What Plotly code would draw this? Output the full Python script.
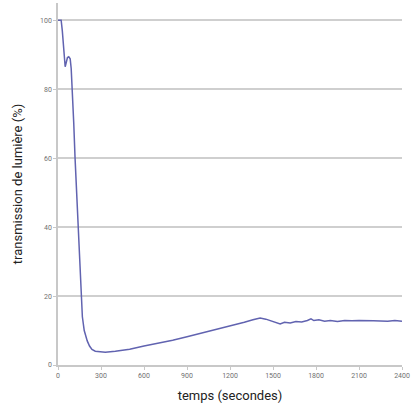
import plotly.graph_objects as go

temps = [0, 22, 30, 40, 50, 58, 66, 75, 85, 92, 100, 110, 119, 130, 142, 150, 160, 170, 183, 195, 204, 220, 237, 260,
         290, 330, 400, 500, 600, 700, 800, 900, 1000, 1100, 1200, 1300, 1360, 1410, 1450, 1500, 1550, 1580, 1620,
         1660, 1700, 1740, 1765, 1785, 1820, 1860, 1900, 1950, 2000, 2050, 2100, 2200, 2300, 2350, 2400]
transmission = [100, 100, 97, 90, 86.5, 87.8, 89.2, 89.4, 88.8, 86, 80, 70, 60, 50, 40, 30, 20, 14, 10, 8, 7, 5.5,
                4.5, 4.0, 3.8, 3.7, 4.0, 4.6, 5.5, 6.3, 7.2, 8.2, 9.2, 10.3, 11.3, 12.4, 13.1, 13.6, 13.3, 12.6,
                11.9, 12.4, 12.2, 12.6, 12.5, 12.9, 13.4, 12.9, 13.1, 12.7, 12.9, 12.6, 12.9, 12.8, 12.9, 12.8,
                12.7, 12.9, 12.7]

x_ticks = [0, 300, 600, 900, 1200, 1500, 1800, 2100, 2400]
y_ticks = [0, 20, 40, 60, 80, 100]

fig = go.Figure()
fig.add_trace(go.Scatter(x=temps, y=transmission, mode="lines",
                         line=dict(color="#6163b0", width=1.5),
                         showlegend=False, hoverinfo="skip"))

fig.update_layout(
    width=415, height=412,
    margin=dict(l=58, r=13, t=3, b=47),
    paper_bgcolor="white", plot_bgcolor="white",
    font=dict(family="Roboto, Arial, sans-serif", color="#222"),
    xaxis=dict(range=[0, 2400], tickvals=x_ticks, ticktext=[str(v) for v in x_ticks],
               showgrid=False, zeroline=False, showline=True, linecolor="#c8c8c8", linewidth=1.5,
               ticks="outside", ticklen=3, tickcolor="#c8c8c8",
               tickfont=dict(size=7, color="#707070"),
               title=dict(text="temps (secondes)", font=dict(size=13, color="#222"), standoff=12)),
    yaxis=dict(range=[0, 105], tickvals=y_ticks, ticktext=[str(v) for v in y_ticks],
               showgrid=True, gridcolor="#cfcfcf", gridwidth=2, zeroline=False,
               showline=True, linecolor="#c8c8c8", linewidth=1.5,
               ticks="outside", ticklen=3, tickcolor="#c8c8c8",
               tickfont=dict(size=7, color="#707070"),
               title=dict(text="transmission de lumière (%)", font=dict(size=13, color="#222"), standoff=14)),
)

fig.write_html("out.html", config={"displayModeBar": False},
               post_script="document.body.style.margin='0';")
